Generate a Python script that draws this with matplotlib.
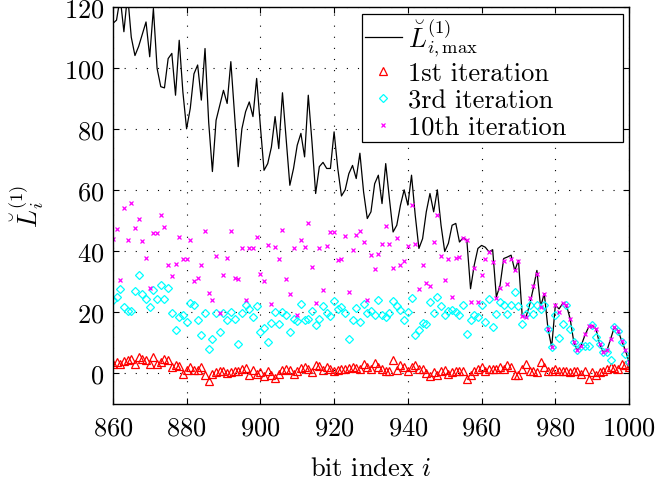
import numpy as np
import matplotlib
matplotlib.use("Agg")
import matplotlib.pyplot as plt

plt.rcParams['font.family'] = 'serif'
plt.rcParams['font.serif'] = ['cmr10']
plt.rcParams['mathtext.fontset'] = 'cm'
plt.rcParams['axes.formatter.use_mathtext'] = True

bit_index = np.arange(860, 1001)

L_max = [114.5, 115.6, 123, 111.8, 124, 110, 104, 107, 111, 115,
         103.6, 119.4, 99.8, 93.8, 93.4, 103, 104.7, 91, 109, 92,
         80, 86.7, 98, 100.9, 89.4, 106.3, 82, 66, 82.8, 87.7,
         92.6, 88.3, 102, 85, 67.6, 80, 85.6, 88.8, 84, 96.5,
         81, 66.4, 68.6, 74, 84, 73.5, 91.8, 76.8, 61.5, 67,
         74.6, 78.5, 70.8, 91, 75.7, 58.8, 67.6, 69, 67, 67,
         79, 67, 58, 60, 65.3, 68, 63.7, 72, 59.3, 50.6,
         52.8, 62, 64.8, 55.5, 68.6, 57.1, 46.2, 48.4, 55, 60,
         55, 64.8, 51.7, 40.8, 44, 52.8, 58.8, 52.8, 60, 48.4,
         39.8, 42.5, 48.4, 49, 42.9, 44.3, 43.5, 27.6, 35.3, 40.8,
         41.8, 41.2, 39.7, 40.4, 24.9, 28.7, 37.5, 38, 38.6, 33.6,
         36.9, 18.9, 18.2, 22.2, 27.6, 33.6, 21.7, 26, 14.5, 8.5,
         22.2, 21, 22.8, 22.2, 17.8, 10.2, 7.4, 9, 12.3, 15,
         15.6, 14.5, 9.6, 6.9, 7.4, 11.2, 15, 13.9, 10.5, 7.4,
         3.6]

iter1 = [3, 3.6, 3, 3.8, 4.1, 4.7, 3, 5.2, 4.7, 4.1,
         3, 5.2, 3, 3.6, 4.7, 4.1, 1.9, 2.5, 2.2, -0.3,
         1.1, 1.9, 1.1, 1.1, 1.9, -0.8, -2.5, -0.3, 0.3, 0.5,
         0.5, 0.1, 0.3, 0.8, 0.8, 1.4, 1.7, -0.8, 1.1, -0.3,
         0.3, -1.1, 0.5, -0.8, -1.7, -0.3, 1.1, 1.4, 1.1, -0.3,
         0.8, 1.7, 1.9, 1.4, 0.3, 2.7, 2.2, 1.1, 1.9, 1.4,
         0.5, 1.1, 1.4, 1.4, 1.5, 1.9, 1.5, 1.4, 3, 1.9,
         1.4, 3.3, 1.9, 1.4, 0.6, 0.8, 4.1, 1.1, 2.5, 1.9,
         0.8, 1.9, 2.5, 1.4, 1.4, 0.1, -1, 0.3, -0.5, 0.5,
         1, -0.3, 0.3, 0.6, 0.8, 0.8, -1.9, -0.8, 0.8, 1.4,
         1.9, 0.8, 1.2, 1.4, 1.2, 1.9, 1.4, 2.5, 1.9, -0.8,
         -0.8, 1.4, 3.1, 0.8, 0.8, 0.3, 3.6, 1.9, 0.8, 0.5,
         1.2, 0.8, 0.8, 0.5, 0.3, 0.8, 0.5, -0.3, 0.8, -1.9,
         0.3, -0.8, 0.3, 0.8, 1.4, 1.9, 1.6, 1.4, 3.1, 2.5,
         1.9]

iter3 = [24, 25, 27.4, 21.6, 20.2, 20.2, 26.8, 32, 26, 24.4,
         21.6, 27.1, 24.4, 28.7, 24.4, 27.7, 19.5, 14, 18.4, 19,
         16.7, 23, 22.2, 17.3, 12.6, 19.5, 7.8, 11.2, 19.5, 13.5,
         19.5, 17.3, 20.1, 17.6, 9.4, 19.5, 22.2, 21.1, 18.4, 22,
         13.5, 14.9, 10.2, 16.4, 20, 16, 20, 19, 13.3, 17.6,
         16.9, 22.7, 17.3, 17.6, 20.2, 15.6, 17.8, 21.9, 19.7, 18.6,
         23.6, 21.1, 21.6, 19.7, 11.2, 17.3, 21.3, 16.7, 22.7, 19.5,
         20.2, 19, 23.8, 19, 18.4, 19.5, 23.6, 21.9, 20.8, 17.3,
         20, 24.7, 12.6, 14.2, 16.5, 16, 23.3, 19.5, 25, 22,
         19, 20.2, 20.8, 20, 18.9, 22.2, 12.9, 17.4, 18.9, 18.3,
         22.2, 16.7, 24.3, 15.1, 19.4, 23.3, 22.2, 19.4, 22.2, 26.6,
         22, 16.2, 19.4, 22.2, 19.4, 22.4, 21.1, 22.2, 14.5, 8.5,
         18.9, 11.5, 16.2, 22.2, 14.5, 10.2, 7.4, 9, 9, 9,
         15.6, 11.8, 9.6, 6.9, 6.9, 4.4, 15, 13.9, 10.1, 6.3,
         3.6]

iter10 = [44, 47.1, 30.4, 54.1, 43.7, 55.8, 47.5, 50.3, 43.2, 37.8,
          27.9, 45.7, 46, 51.7, 47.9, 35.3, 31.7, 35.8, 44.6, 37.3,
          37.5, 43.7, 30.2, 31, 35.3, 46.6, 26.3, 23.8, 38.2, 19.5,
          32, 37.8, 46.6, 31.2, 30.9, 40.9, 23.8, 40.8, 41.1, 44.6,
          32.3, 30.2, 41.9, 22.5, 41.2, 37.5, 46.8, 30.7, 25.8, 41,
          19.1, 43.5, 41.3, 49.2, 34.7, 23, 41, 27.1, 41.6, 46.2,
          46.2, 36.9, 37.2, 44.9, 26.6, 40.4, 45.1, 46.6, 42.8, 23.8,
          38.6, 34.2, 39.1, 42.4, 48.2, 42.1, 34.4, 44.3, 35.3, 36.6,
          41.6, 55, 42.1, 27.6, 35.3, 29.6, 28.5, 42.8, 51.7, 38.4,
          30.4, 37.2, 24.9, 37.8, 38, 44.3, 43.5, 23.3, 34.5, 23.3,
          32, 37.5, 39.7, 36.2, 24.7, 27.9, 36.7, 29.1, 37.2, 33.7,
          36.6, 18.6, 18.3, 24.6, 28.5, 32.4, 21.6, 26, 14.5, 8.5,
          22.2, 20, 22.8, 22.2, 17.8, 10.2, 7.4, 9, 12.7, 15.3,
          15.3, 14.5, 9.6, 6.9, 7.4, 11.2, 15, 13.9, 10.5, 7.4,
          3.6]

fig = plt.figure(figsize=(6.56, 4.81), dpi=100)
ax = fig.add_axes([0.172, 0.159, 0.787, 0.825])

ax.plot(bit_index, L_max, color='black', linewidth=0.9,
        label=r'$\breve{L}^{(1)}_{i,\max}$')
ax.plot(bit_index, iter1, linestyle='none', marker='^', markersize=5.5,
        markerfacecolor='none', markeredgecolor='red', markeredgewidth=0.9,
        label='1st iteration')
ax.plot(bit_index, iter3, linestyle='none', marker='D', markersize=4.3,
        markerfacecolor='none', markeredgecolor='cyan', markeredgewidth=0.9,
        label='3rd iteration')
ax.plot(bit_index, iter10, linestyle='none', marker='x', markersize=3.5,
        color='magenta', markeredgewidth=0.9, label='10th iteration')

ax.set_xlim(860, 1000)
ax.set_ylim(-10, 120)
ax.set_xticks(np.arange(860, 1001, 20))
ax.set_yticks(np.arange(0, 121, 20))
ax.grid(True, color='black', linestyle=(0, (1, 9)), linewidth=0.8)
ax.tick_params(direction='in', top=True, right=True, labelsize=19, length=4, pad=6)
ax.tick_params(axis='x', pad=9)
for s in ax.spines.values():
    s.set_linewidth(1.0)

ax.set_xlabel(r'bit index $i$', fontsize=19, labelpad=12)
ax.set_ylabel(r'$\breve{L}^{(1)}_i$', fontsize=19, labelpad=13)

# matlab-style legend: wider box with empty space on the right
leg = ax.legend(loc='upper left', bbox_to_anchor=(0.483, 0.982, 0.505, 0),
                mode='expand', borderaxespad=0,
                fontsize=19, fancybox=False, edgecolor='black', framealpha=1,
                handlelength=1.4, handletextpad=0.25, labelspacing=0.13,
                borderpad=0.1)
leg.get_frame().set_linewidth(0.9)

fig.savefig('out.png', dpi=100)
